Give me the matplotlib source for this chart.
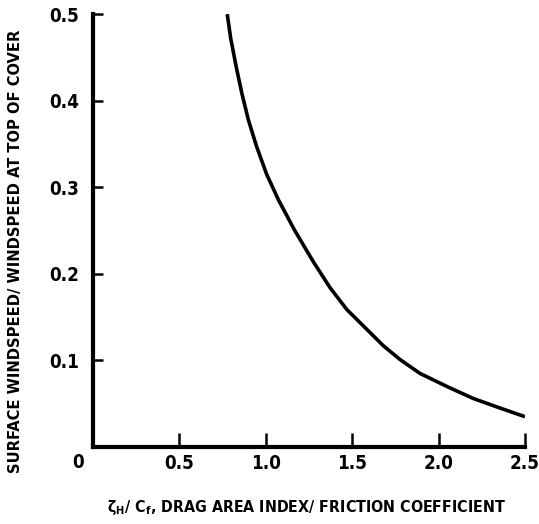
import matplotlib
matplotlib.use("Agg")
import matplotlib.pyplot as plt
from matplotlib import font_manager

# Data
ratio = [0.777, 0.797, 0.828, 0.861, 0.899, 0.947, 1.005, 1.072, 1.165, 1.275,
         1.372, 1.468, 1.584, 1.680, 1.777, 1.892, 2.047, 2.201, 2.355, 2.5]
wind = [0.500, 0.472, 0.440, 0.409, 0.378, 0.347, 0.315, 0.286, 0.251, 0.214,
        0.184, 0.159, 0.136, 0.117, 0.101, 0.085, 0.070, 0.056, 0.045, 0.035]
xticks = [0.5, 1.0, 1.5, 2.0, 2.5]
xticklabels = ["0.5", "1.0", "1.5", "2.0", "2.5"]
yticks = [0.1, 0.2, 0.3, 0.4, 0.5]
yticklabels = ["0.1", "0.2", "0.3", "0.4", "0.5"]

cond = [f for f in font_manager.fontManager.ttflist
        if ("Narrow" in f.name or "Condensed" in f.name or f.stretch in ("condensed", "semi-condensed", 600, 700))]
fam = cond[0].name if cond else "Liberation Sans"
stretch = cond[0].stretch if cond else "normal"
plt.rcParams["font.family"] = [fam, "DejaVu Sans"]
plt.rcParams["font.stretch"] = stretch
plt.rcParams["mathtext.fontset"] = "custom"
plt.rcParams["mathtext.rm"] = fam + ":bold"
plt.rcParams["mathtext.it"] = fam + ":bold"
plt.rcParams["mathtext.bf"] = fam + ":bold"

fig = plt.figure(figsize=(5.39, 5.24), dpi=100)
ax = fig.add_axes([0.1725, 0.147, 0.8015, 0.826])
ax.plot(ratio, wind, color="black", lw=2.6, solid_capstyle="butt")
ax.set_xlim(0, 2.5)
ax.set_ylim(0, 0.5)
for s in ["top", "right"]:
    ax.spines[s].set_visible(False)
for s in ["left", "bottom"]:
    ax.spines[s].set_linewidth(3)
    ax.spines[s].set_color("black")
ax.set_xticks(xticks)
ax.set_xticklabels(xticklabels, fontsize=13.5, fontweight="bold")
ax.set_yticks(yticks)
ax.set_yticklabels(yticklabels, fontsize=13.5, fontweight="bold")
ax.tick_params(axis="x", direction="in", length=10, width=1.8, pad=5)
ax.tick_params(axis="y", direction="in", length=7, width=1.8, pad=10)
ax.text(-0.087, -0.0185, "0", transform=ax.transData, ha="center", va="center",
        fontsize=13.5, fontweight="bold", clip_on=False)

xl = fig.text(0.568, 0.032, "ζ$_{H}$/ C$_{f}$, DRAG AREA INDEX/ FRICTION COEFFICIENT",
              ha="center", va="center", fontsize=12.5, fontweight="bold")
yl = fig.text(0.028, 0.52, "SURFACE WINDSPEED/ WINDSPEED AT TOP OF COVER",
              ha="center", va="center", rotation=90, fontsize=12.5, fontweight="bold")

# fit label lengths to the reference extents
r = fig.canvas.get_renderer()
w = xl.get_window_extent(r).width
xl.set_fontsize(12.5 * 400.0 / w)
h = yl.get_window_extent(r).height
yl.set_fontsize(12.5 * 442.0 / h)

fig.savefig("out.png", dpi=100, facecolor="white")
